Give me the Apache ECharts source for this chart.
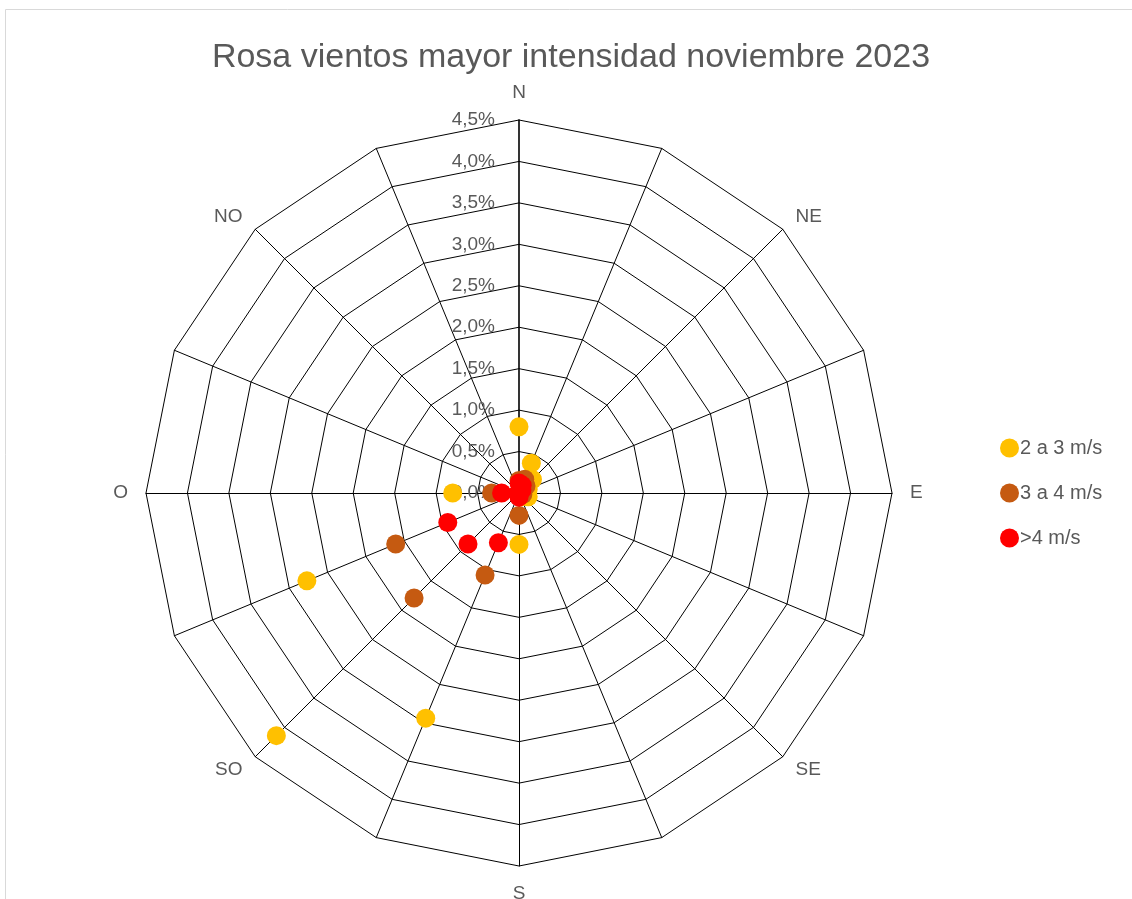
<!DOCTYPE html>
<html lang="es">
  <head>
    <meta charset="UTF-8" />
    <title>Rosa vientos mayor intensidad noviembre 2023</title>
    <script src="https://cdn.jsdelivr.net/npm/echarts@6.0.0/dist/echarts.min.js"></script>
    <style>
      html, body { margin: 0; padding: 0; background: #fff; overflow: hidden; }
    </style>
  </head>
  <body>
    <div id="main" style="width: 1132px; height: 899px"></div>
    <script type="text/javascript">
      // direcciones en sentido horario desde el norte
      const directions = ['N', 'NNE', 'NE', 'ENE', 'E', 'ESE', 'SE', 'SSE',
        'S', 'SSO', 'SO', 'OSO', 'O', 'ONO', 'NO', 'NNO'];
      const shownNames = ['N', 'NE', 'E', 'SE', 'S', 'SO', 'O', 'NO'];
      const seriesNames = ['2 a 3 m/s', '3 a 4 m/s', '>4 m/s'];
      const colors = ['#FFC000', '#C55A11', '#FF0000'];

      // porcentaje de frecuencia por dirección
      const v2a3 = [0.80, 0.39, 0.23, 0.12, 0.10, 0.12, 0.05, 0.05,
        0.62, 2.94, 4.14, 2.77, 0.80, 0, 0, 0];
      const v3a4 = [0.15, 0.18, 0.12, 0.05, 0, 0.05, 0, 0,
        0.27, 1.07, 1.79, 1.61, 0.33, 0, 0, 0];
      const vMas4 = [0.12, 0.10, 0.05, 0, 0, 0, 0, 0,
        0.05, 0.65, 0.87, 0.93, 0.21, 0, 0, 0];

      const maxValue = 4.5;
      const step = 0.5;

      const container = document.getElementById('main');
      const myChart = echarts.init(container);

      // radar de echarts va en sentido antihorario, se invierte el orden
      const order = [0];
      for (let i = directions.length - 1; i > 0; i--) order.push(i);
      const reorder = (arr) => order.map((i) => arr[i]);

      const indicator = order.map((i, k) => {
        const item = { name: directions[i], min: 0, max: maxValue };
        if (k === 0) {
          // eje N con etiquetas y línea más marcada
          item.axisLabel = { show: true };
          item.axisLine = { lineStyle: { width: 1.6 } };
        }
        return item;
      });

      const allValues = [v2a3, v3a4, vMas4];

      const option = {
        animation: false,
        color: colors,
        title: {
          text: 'Rosa vientos mayor intensidad noviembre 2023',
          left: 566,
          textAlign: 'center',
          top: 36,
          textStyle: {
            fontFamily: 'Liberation Sans',
            fontSize: 34,
            fontWeight: 'normal',
            color: '#595959',
          },
        },
        legend: {
          orient: 'vertical',
          left: 995,
          top: 433,
          icon: 'circle',
          itemWidth: 19,
          itemHeight: 19,
          itemGap: 25,
          data: seriesNames,
          textStyle: { fontFamily: 'Liberation Sans', fontSize: 20, color: '#595959', padding: [0, 0, 0, -4] },
        },
        graphic: [
          {
            type: 'rect',
            silent: true,
            shape: { x: 5.5, y: 9.5, width: 1200, height: 1000 },
            style: { fill: 'none', stroke: '#d9d9d9', lineWidth: 1 },
          },
        ],
        radar: {
          center: [519, 493],
          radius: 373,
          shape: 'polygon',
          splitNumber: maxValue / step,
          indicator: indicator,
          axisName: {
            color: '#595959',
            fontFamily: 'Liberation Sans',
            fontSize: 19,
            formatter: (name) => (shownNames.includes(name) ? name : ''),
          },
          nameGap: 18,
          axisLine: { lineStyle: { color: '#000', width: 1 } },
          splitLine: { lineStyle: { color: '#000', width: 1 } },
          splitArea: { show: false },
          axisTick: { show: false },
          axisLabel: {
            show: false,
            color: '#595959',
            fontFamily: 'Liberation Sans',
            fontSize: 19,
            margin: 24,
            padding: [5, 0, 0, 0],
            formatter: (v) => v.toFixed(1).replace('.', ',') + '%',
          },
        },
        series: seriesNames.map((name, s) => ({
          type: 'radar',
          name: name,
          symbol: 'circle',
          symbolSize: 19,
          lineStyle: { width: 0, opacity: 0 },
          itemStyle: { color: colors[s], opacity: 1 },
          data: [{ name: name, value: reorder(allValues[s]) }],
        })),
      };

      myChart.setOption(option);
    </script>
  </body>
</html>
